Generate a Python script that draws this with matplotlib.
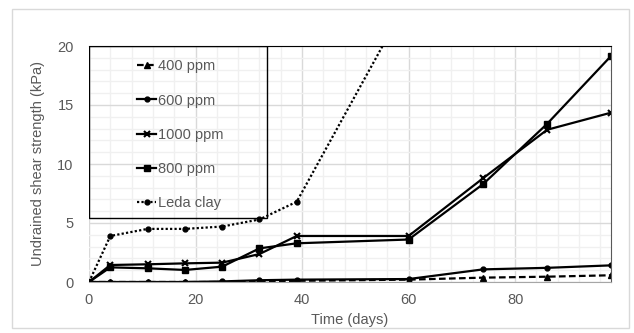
import numpy as np
import matplotlib.pyplot as plt
from matplotlib.patches import Rectangle

plt.rcParams['font.family'] = ['Liberation Sans', 'DejaVu Sans']

days = [0, 4, 11, 18, 25, 32, 39, 60, 74, 86, 98]
ppm400 = [0, 0, 0, 0, 0, 0.05, 0.1, 0.2, 0.37, 0.45, 0.57]
ppm600 = [0, 0, 0, 0, 0.05, 0.15, 0.2, 0.25, 1.07, 1.2, 1.41]
ppm1000 = [0, 1.44, 1.5, 1.58, 1.64, 2.37, 3.9, 3.9, 8.8, 12.9, 14.35]
ppm800 = [0, 1.24, 1.16, 1.02, 1.3, 2.85, 3.28, 3.6, 8.3, 13.4, 19.15]
leda_days = [0, 4, 11, 18, 25, 32, 39, 60]
leda = [0, 3.9, 4.5, 4.5, 4.7, 5.3, 6.8, 24.0]

W, H = 634, 333
fig = plt.figure(figsize=(W / 100, H / 100), dpi=100)
ax = fig.add_axes([89 / W, 1 - 282 / H, (611 - 89) / W, (282 - 46) / H])

# outer chart frame
fig.patches.append(Rectangle((12 / W, 5 / H), (629 - 12) / W, (326 - 7) / H,
                             transform=fig.transFigure, fill=False,
                             edgecolor='#d9d9d9', linewidth=1))

lw = 1.6
ax.plot(days, ppm400, color='black', lw=lw, ls=(0, (3, 1.5)), marker='^', ms=4.5, label='400 ppm')
ax.plot(days, ppm600, color='black', lw=lw, marker='o', ms=3.5, label='600 ppm')
ax.plot(days, ppm1000, color='black', lw=lw, marker='x', ms=5, mew=1.5, label='1000 ppm')
ax.plot(days, ppm800, color='black', lw=lw, marker='s', ms=4, label='800 ppm')
ax.plot(leda_days, leda, color='black', lw=lw, ls=(0, (1, 1)), marker='o', ms=3.5, label='Leda clay')

ax.set_xlim(0, 98)
ax.set_ylim(0, 20)
ax.set_xticks([0, 20, 40, 60, 80])
ax.set_yticks([0, 5, 10, 15, 20])
ax.set_xticks(np.arange(0, 98, 4), minor=True)
ax.set_yticks(np.arange(0, 21, 1), minor=True)
ax.grid(which='major', color='#d9d9d9', lw=1)
ax.grid(which='minor', color='#f0f0f0', lw=1)
ax.set_axisbelow(True)
ax.tick_params(which='both', length=0, labelsize=10.5, labelcolor='#595959')
ax.tick_params(axis='x', pad=8)
ax.tick_params(axis='y', pad=11)

ax.spines['left'].set_visible(False)
ax.spines['top'].set_color('black')
ax.spines['right'].set_color('#595959')
ax.spines['bottom'].set_color('#a6a6a6')

ax.set_xlabel('Time (days)', fontsize=10.5, color='#595959', labelpad=4)
ax.set_ylabel('Undrained shear strength (kPa)', fontsize=10.5, color='#595959', labelpad=9)

# legend box
box_w = (267 - 89) / (611 - 89)
box_b = (282 - 218) / (282 - 46)
ax.add_patch(Rectangle((0, box_b), box_w, 1 - box_b, transform=ax.transAxes,
                       fill=False, edgecolor='black', lw=1, zorder=5))
leg = ax.legend(loc='upper left', bbox_to_anchor=(130 / W, 1 - 52 / H),
                bbox_transform=fig.transFigure, frameon=False,
                fontsize=10.5, labelcolor='#595959', handlelength=1.3,
                handletextpad=0.15, labelspacing=1.39, borderpad=0)

fig.savefig('out.png', dpi=100)
